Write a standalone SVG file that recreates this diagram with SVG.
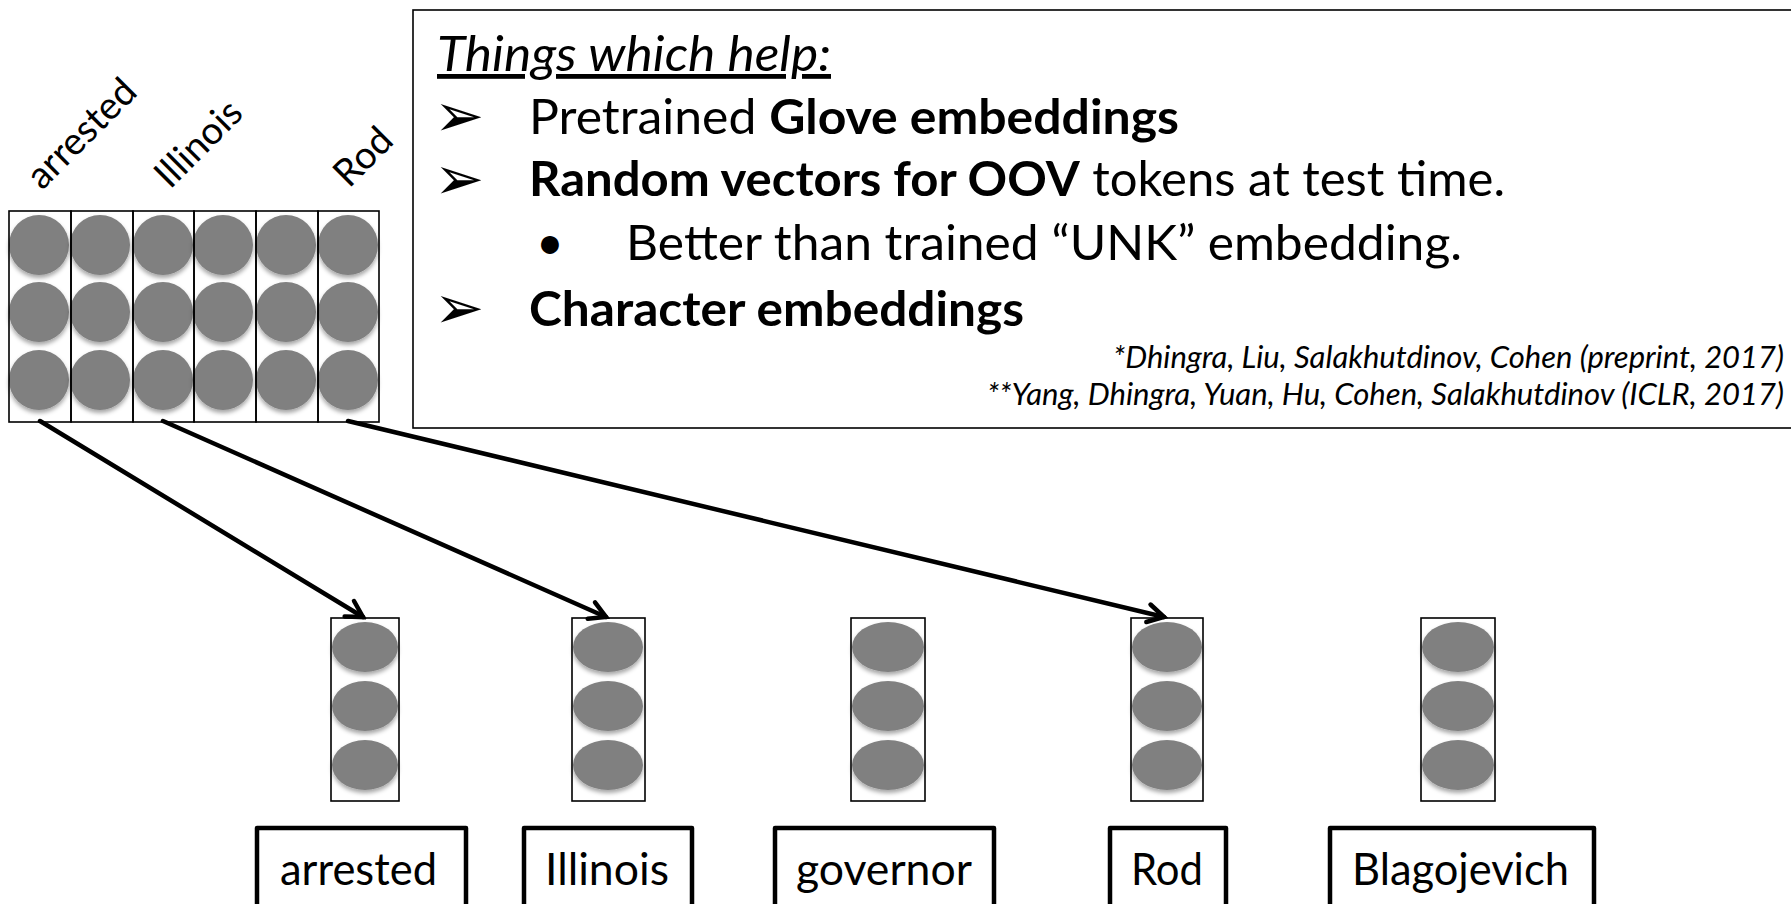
<svg xmlns="http://www.w3.org/2000/svg" width="1791" height="904" viewBox="0 0 1791 904">
<style>
  .cell { fill: none; stroke: #000; stroke-width: 1.6; }
  .dot { fill: #808080; filter: url(#sh); }
  .word { fill: #fff; stroke: #000; stroke-width: 4.5; stroke-linejoin: round; }
  .wtxt { font-family: Lato, "Liberation Sans", sans-serif; font-size: 44px; fill: #000; }
  .rot { font-family: Lato, "Liberation Sans", sans-serif; font-size: 38px; fill: #000; }
  .main { font-family: Lato, "Liberation Sans", sans-serif; font-size: 48px; fill: #000; }
  .bul { font-family: "DejaVu Sans", sans-serif; font-size: 60px; fill: #000; }
  .ref { font-family: Lato, "Liberation Sans", sans-serif; font-size: 30px; font-style: italic; fill: #000; }
  .conn { fill: none; stroke: #000; stroke-width: 4.5; stroke-linecap: round; marker-end: url(#ah); }
</style>
<defs>
  <filter id="sh" x="-20%" y="-20%" width="140%" height="150%">
    <feDropShadow dx="0" dy="3" stdDeviation="2" flood-color="#000" flood-opacity="0.35"/>
  </filter>
  <marker id="ah" viewBox="0 0 24 24" refX="20" refY="12" markerWidth="24" markerHeight="24" markerUnits="userSpaceOnUse" orient="auto">
    <path d="M4,3 L20,12 L4,21" fill="none" stroke="#000" stroke-width="4.5" stroke-linecap="round" stroke-linejoin="miter"/>
  </marker>
</defs>
<rect width="1791" height="904" fill="#fff"/>

<g id="grid">
  <g id="grid-dots">
    <circle class="dot" cx="39" cy="245" r="30"/><circle class="dot" cx="100" cy="245" r="30"/><circle class="dot" cx="163" cy="245" r="30"/><circle class="dot" cx="223" cy="245" r="30"/><circle class="dot" cx="286" cy="245" r="30"/><circle class="dot" cx="348" cy="245" r="30"/>
    <circle class="dot" cx="39" cy="312" r="30"/><circle class="dot" cx="100" cy="312" r="30"/><circle class="dot" cx="163" cy="312" r="30"/><circle class="dot" cx="223" cy="312" r="30"/><circle class="dot" cx="286" cy="312" r="30"/><circle class="dot" cx="348" cy="312" r="30"/>
    <circle class="dot" cx="39" cy="380" r="30"/><circle class="dot" cx="100" cy="380" r="30"/><circle class="dot" cx="163" cy="380" r="30"/><circle class="dot" cx="223" cy="380" r="30"/><circle class="dot" cx="286" cy="380" r="30"/><circle class="dot" cx="348" cy="380" r="30"/>
  </g>
  <rect class="cell" x="9" y="211" width="62" height="211"/>
  <rect class="cell" x="71" y="211" width="62" height="211"/>
  <rect class="cell" x="133" y="211" width="61" height="211"/>
  <rect class="cell" x="194" y="211" width="62" height="211"/>
  <rect class="cell" x="256" y="211" width="62" height="211"/>
  <rect class="cell" x="318" y="211" width="61" height="211"/>
  <text class="rot" transform="translate(42,191) rotate(-45)">arrested</text>
  <text class="rot" transform="translate(170,190) rotate(-45)">Illinois</text>
  <text class="rot" transform="translate(349,189) rotate(-45)">Rod</text>
</g>

<g id="notes">
  <rect x="413" y="10" width="1400" height="418" fill="none" stroke="#000" stroke-width="1.6"/>
  <text class="main" x="437" y="71" font-style="italic" text-decoration="underline" textLength="394" lengthAdjust="spacingAndGlyphs">Things which help:</text>
  <text class="bul" x="434" y="136">➢</text>
  <text class="main" x="529" y="134" textLength="650" lengthAdjust="spacingAndGlyphs">Pretrained <tspan font-weight="bold">Glove embeddings</tspan></text>
  <text class="bul" x="434" y="199">➢</text>
  <text class="main" x="529" y="196" textLength="976" lengthAdjust="spacingAndGlyphs"><tspan font-weight="bold">Random vectors for OOV</tspan> tokens at test time.</text>
  <text class="main" x="536" y="259" font-size="32">•</text>
  <text class="main" x="626" y="260" textLength="836" lengthAdjust="spacingAndGlyphs">Better than trained “UNK” embedding.</text>
  <text class="bul" x="434" y="328">➢</text>
  <text class="main" x="529" y="326" font-weight="bold" textLength="495" lengthAdjust="spacingAndGlyphs">Character embeddings</text>
  <text class="ref" x="1113" y="368" textLength="671" lengthAdjust="spacingAndGlyphs">*Dhingra, Liu, Salakhutdinov, Cohen (preprint, 2017)</text>
  <text class="ref" x="987" y="405" textLength="797" lengthAdjust="spacingAndGlyphs">**Yang, Dhingra, Yuan, Hu, Cohen, Salakhutdinov (ICLR, 2017)</text>
</g>

<g id="col-arrested">
  <ellipse class="dot" cx="365" cy="647" rx="33" ry="25"/><ellipse class="dot" cx="365" cy="706" rx="33" ry="25"/><ellipse class="dot" cx="365" cy="765" rx="33" ry="25"/>
  <rect class="cell" x="331" y="618" width="68" height="183"/>
</g>
<g id="col-illinois">
  <ellipse class="dot" cx="608" cy="647" rx="35" ry="25"/><ellipse class="dot" cx="608" cy="706" rx="35" ry="25"/><ellipse class="dot" cx="608" cy="765" rx="35" ry="25"/>
  <rect class="cell" x="572" y="618" width="73" height="183"/>
</g>
<g id="col-governor">
  <ellipse class="dot" cx="888" cy="647" rx="36" ry="25"/><ellipse class="dot" cx="888" cy="706" rx="36" ry="25"/><ellipse class="dot" cx="888" cy="765" rx="36" ry="25"/>
  <rect class="cell" x="851" y="618" width="74" height="183"/>
</g>
<g id="col-rod">
  <ellipse class="dot" cx="1167" cy="647" rx="35" ry="25"/><ellipse class="dot" cx="1167" cy="706" rx="35" ry="25"/><ellipse class="dot" cx="1167" cy="765" rx="35" ry="25"/>
  <rect class="cell" x="1131" y="618" width="72" height="183"/>
</g>
<g id="col-blagojevich">
  <ellipse class="dot" cx="1458" cy="647" rx="36" ry="25"/><ellipse class="dot" cx="1458" cy="706" rx="36" ry="25"/><ellipse class="dot" cx="1458" cy="765" rx="36" ry="25"/>
  <rect class="cell" x="1421" y="618" width="74" height="183"/>
</g>

<g id="word-arrested"><rect class="word" x="257" y="828" width="209" height="100"/><text class="wtxt" x="280" y="885" textLength="157" lengthAdjust="spacingAndGlyphs">arrested</text></g>
<g id="word-illinois"><rect class="word" x="524" y="828" width="168" height="100"/><text class="wtxt" x="545" y="885" textLength="124" lengthAdjust="spacingAndGlyphs">Illinois</text></g>
<g id="word-governor"><rect class="word" x="775" y="828" width="219" height="100"/><text class="wtxt" x="796" y="885" textLength="176" lengthAdjust="spacingAndGlyphs">governor</text></g>
<g id="word-rod"><rect class="word" x="1110" y="828" width="116" height="100"/><text class="wtxt" x="1131" y="885" textLength="72" lengthAdjust="spacingAndGlyphs">Rod</text></g>
<g id="word-blagojevich"><rect class="word" x="1330" y="828" width="264" height="100"/><text class="wtxt" x="1352" y="885" textLength="217" lengthAdjust="spacingAndGlyphs">Blagojevich</text></g>

<g id="connectors">
  <line class="conn" x1="40" y1="421" x2="363" y2="617"/>
  <line class="conn" x1="163" y1="421" x2="606" y2="617"/>
  <line class="conn" x1="348" y1="421" x2="1164" y2="617"/>
</g>
</svg>
